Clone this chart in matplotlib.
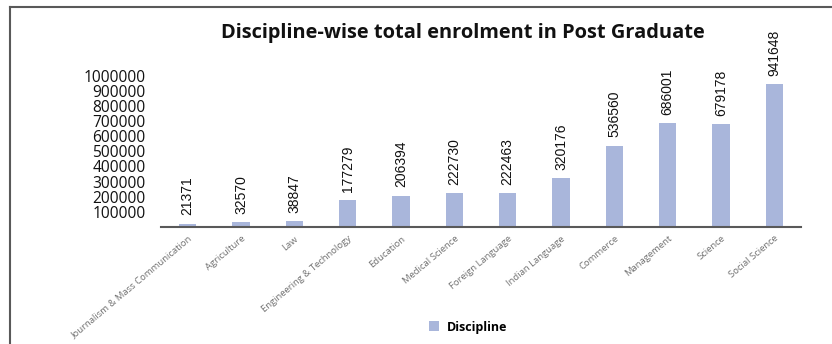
import matplotlib
matplotlib.use("Agg")
import matplotlib.pyplot as plt
from matplotlib.lines import Line2D
from matplotlib.patches import Patch

# data
disciplines = ["Journalism & Mass Communication", "Agriculture", "Law",
               "Engineering & Technology", "Education", "Medical Science",
               "Foreign Language", "Indian Language", "Commerce",
               "Management", "Science", "Social Science"]
enrolment = [21371, 32570, 38847, 177279, 206394, 222730,
             222463, 320176, 536560, 686001, 679178, 941648]
yticks = [100000, 200000, 300000, 400000, 500000,
          600000, 700000, 800000, 900000, 1000000]

BAR = "#A9B6DB"
GREY = "#595959"

W, H = 832, 344
fig = plt.figure(figsize=(W / 100, H / 100), dpi=100)
fig.patch.set_facecolor("white")

ax = fig.add_axes([161 / W, (H - 227) / H, 640 / W, 151.5 / H])
x = range(len(disciplines))
bars = ax.bar(x, enrolment, width=0.32, color=BAR, zorder=2)
ax.set_xlim(-0.5, len(disciplines) - 0.5)
ax.set_ylim(0, 1000000)

for b, v in zip(bars, enrolment):
    ax.annotate(str(v), (b.get_x() + b.get_width() / 2, v),
                xytext=(0, 6), textcoords="offset points",
                rotation=90, ha="center", va="bottom",
                fontsize=10, family=["Liberation Sans Narrow", "Liberation Sans"],
                color="#111111")

ax.set_yticks(yticks)
ax.set_yticklabels([str(t) for t in yticks], fontsize=11.2, family="Open Sans",
                   color="#111111")
ax.tick_params(axis="y", length=0, pad=11)

ax.set_xticks(list(x))
ax.set_xticklabels(disciplines, rotation=40, ha="right", va="top",
                   rotation_mode="anchor", fontsize=6.8, family="Open Sans",
                   color="#707070")
ax.tick_params(axis="x", length=0, pad=5)

for s in ["top", "right", "left"]:
    ax.spines[s].set_visible(False)
ax.spines["bottom"].set_color(GREY)
ax.spines["bottom"].set_linewidth(1.5)

fig.text(463 / W, 1 - 33 / H, "Discipline-wise total enrolment in Post Graduate",
         ha="center", va="center", fontsize=14.4, fontweight="bold",
         family="Open Sans", color="#111111")

fig.legend(handles=[Patch(facecolor=BAR, label="Discipline")],
           loc="center", bbox_to_anchor=(468 / W, 1 - 327 / H),
           frameon=False, handlelength=0.8, handleheight=0.8,
           handletextpad=0.6,
           prop={"family": "Open Sans", "weight": "bold", "size": 9})

# frame lines of the screenshot
fig.add_artist(Line2D([10 / W, 1], [1 - 7 / H, 1 - 7 / H], color=GREY, lw=1.5))
fig.add_artist(Line2D([10 / W, 10 / W], [0, 1 - 7 / H], color=GREY, lw=1.5))

fig.savefig("out.png", dpi=100)
